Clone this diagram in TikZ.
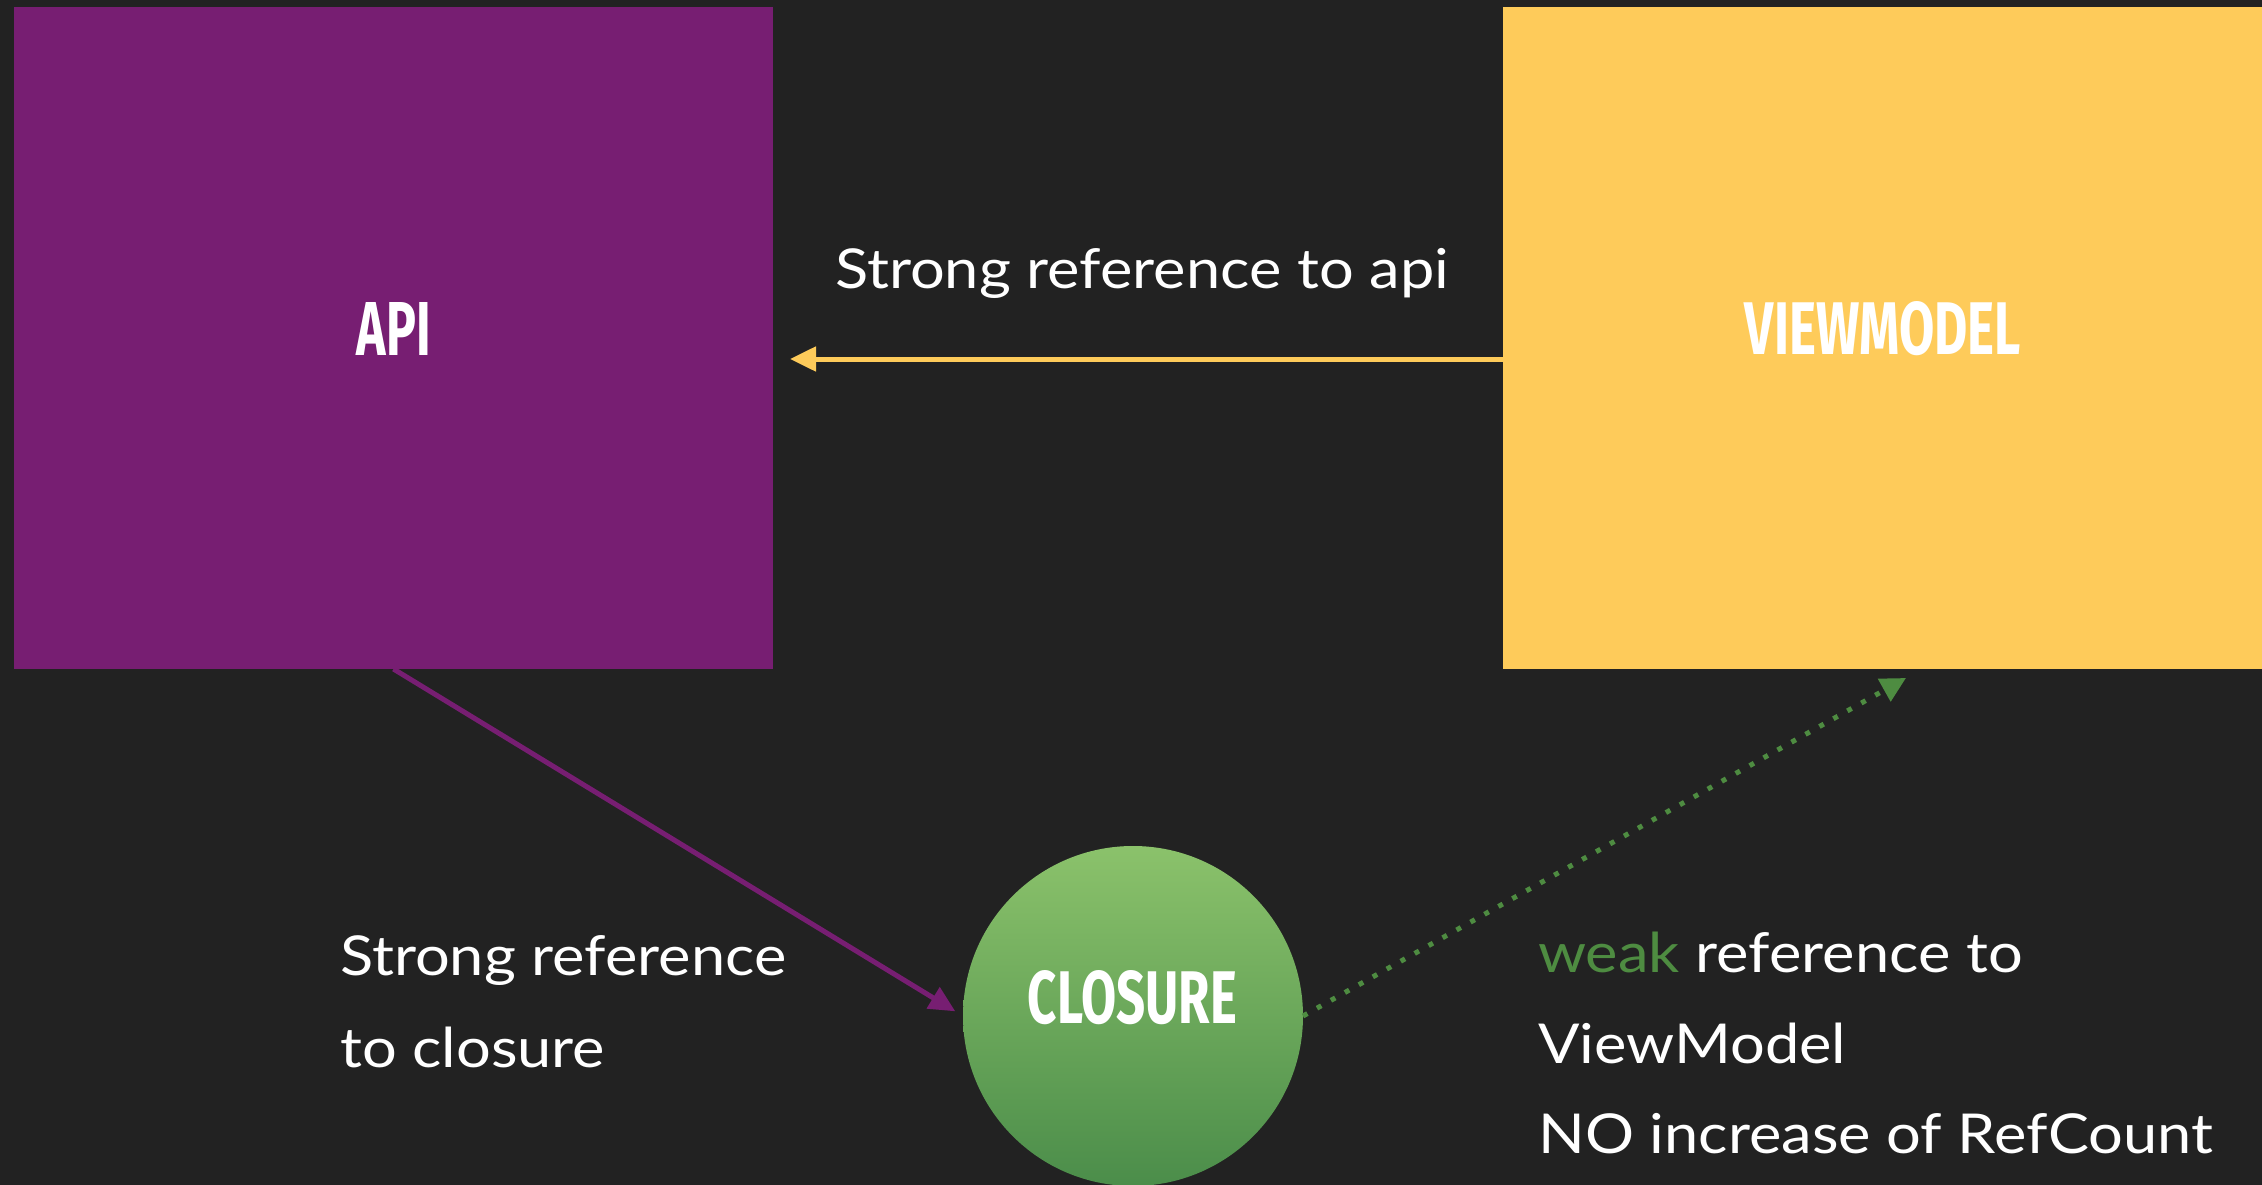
\documentclass[tikz,border=0pt]{standalone}
\usepackage{fontspec}
\setmainfont{Lato}[FakeStretch=1.115]
\newfontfamily\labelfont{Fira Sans}
\usetikzlibrary{arrows.meta,shadings}
\definecolor{bg}{HTML}{222222}
\definecolor{apipurple}{HTML}{771E72}
\definecolor{vmyellow}{HTML}{FECB5A}
\definecolor{gtop}{HTML}{8BC26B}
\definecolor{gbot}{HTML}{4B8D4A}
\definecolor{weakgreen}{HTML}{4E8C41}
\begin{document}
\begin{tikzpicture}[x=1pt,y=-1pt,
  box/.style={rectangle, inner sep=0, outer sep=0, anchor=north west, minimum width=759, minimum height=662},
  caption/.style={anchor=base west, inner sep=0, text=white, font=\fontsize{55}{66}\selectfont},
  title/.style={anchor=base, inner sep=0, text=white},
  strongarrow/.style={line width=5, -{Triangle[length=26,width=24]}},
  weakarrow/.style={line width=5, weakgreen, dash pattern=on 5pt off 11pt, -{Triangle[length=25,width=25]}},
]
\useasboundingbox (0,0) rectangle (2262,1185);
\fill[bg] (0,0) rectangle (2262,1185);
\node[box, fill=apipurple] (api) at (14,7) {};
\node[box, fill=vmyellow] (vm) at (1503,7) {};
\node[circle, inner sep=0, outer sep=0, minimum size=340, top color=gtop, bottom color=gbot] (cl) at (1133,1016) {};
\node[title] (apit) at (394,355) {\resizebox{74pt}{53pt}{\labelfont\bfseries API}};
\node[title] (vmt) at (1883,354) {\resizebox{276pt}{53pt}{\labelfont\bfseries VIEWMODEL}};
\node[title] (clt) at (1132.5,1023) {\resizebox{209pt}{53pt}{\labelfont\bfseries CLOSURE}};
\coordinate (ytail) at (1503,359);
\coordinate (ytip) at (790,359);
\draw[strongarrow, vmyellow] (ytail) -- (ytip);
\draw[strongarrow, apipurple, shorten >=9] (api.south) -- (cl.west);
\coordinate (gtip) at (1906,678);
\draw[weakarrow] (cl.east) -- (gtip);
\node[caption] (t1) at (835,288) {Strong reference to api};
\node[caption] (t2) at (340,975) {Strong reference};
\node[caption] (t3) at (340,1067) {to closure};
\node[caption] (t4) at (1538,972) {\textcolor{weakgreen}{weak} reference to};
\node[caption] (t5) at (1538,1063) {ViewModel};
\node[caption] (t6) at (1538,1153) {NO increase of RefCount};
\end{tikzpicture}
\end{document}
